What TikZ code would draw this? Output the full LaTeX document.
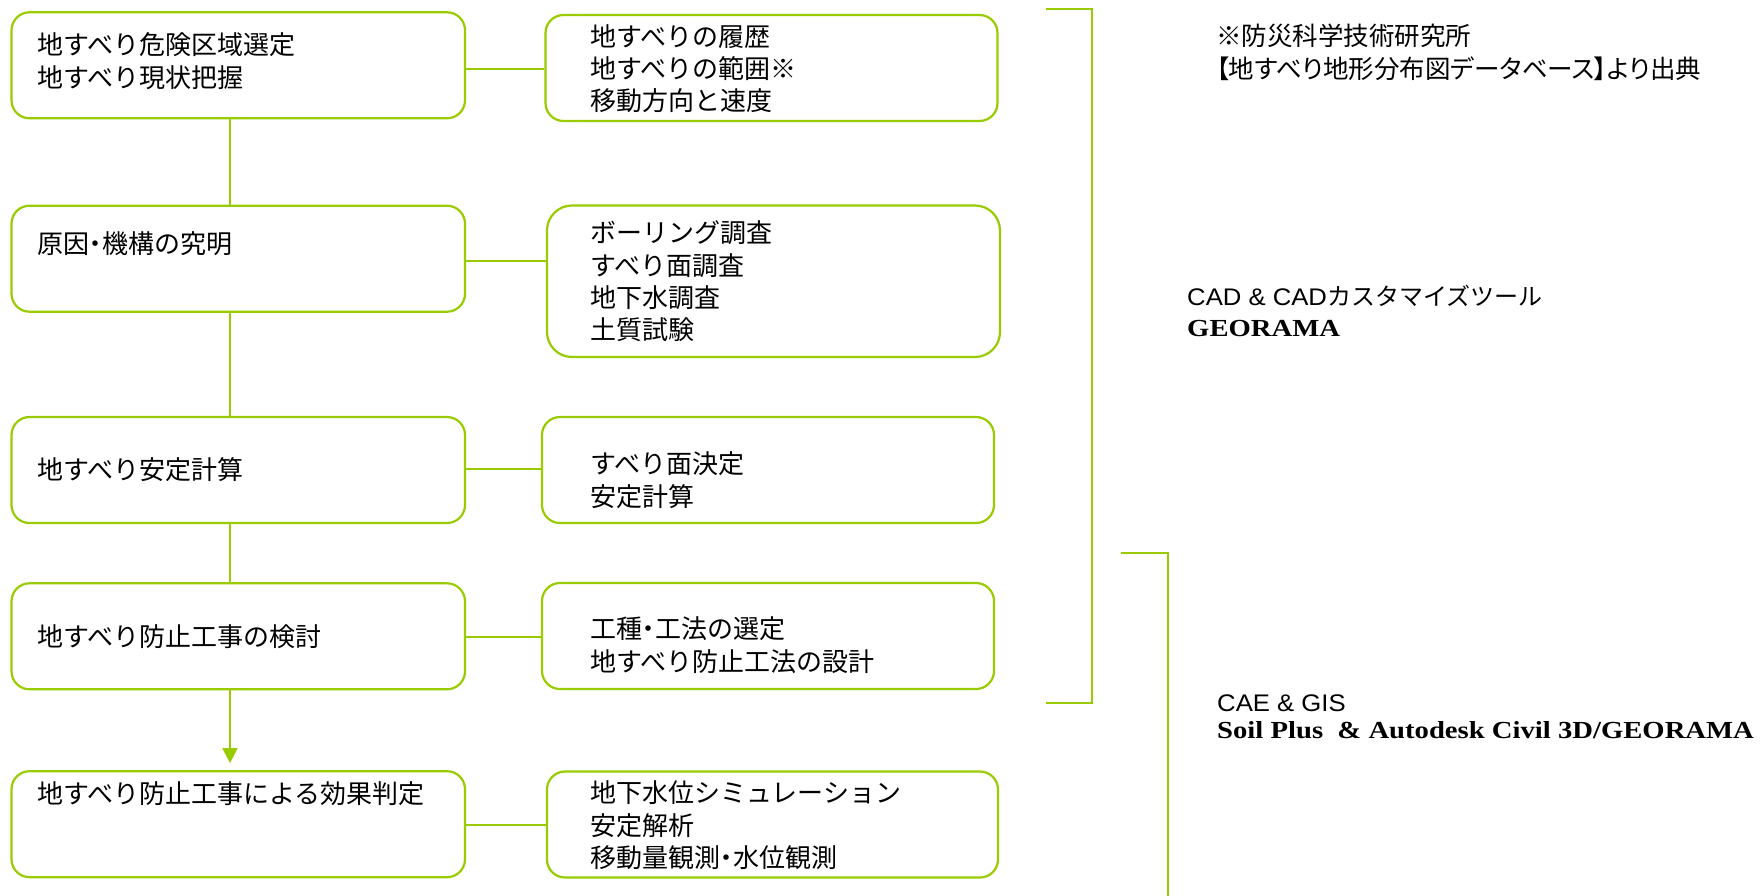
\documentclass[tikz,border=0pt]{standalone}
\usepackage{fontspec}
\newfontfamily\jp{Noto Sans CJK JP}
\newfontfamily\jpp{Noto Sans CJK JP}[RawFeature=+palt]
\newfontfamily\lsans{Liberation Sans}[FakeStretch=1.07]
\newfontfamily\bserif{Liberation Serif}[FakeStretch=1.17]
\newcommand{\nd}{{\jpp ・}}
\usetikzlibrary{arrows.meta}
\definecolor{lg}{RGB}{153,204,0}
\begin{document}
\begin{tikzpicture}[x=1pt,y=-1pt,
  box/.style={draw=lg, line width=2.2pt, rounded corners=18pt, inner sep=0pt, fill=white},
  conn/.style={draw=lg, line width=2.2pt},
  brk/.style={draw=lg, line width=2pt},
  jtxt/.style={font=\jp\fontsize{26pt}{32.4pt}\selectfont, align=left, inner sep=0pt, anchor=west, text=black},
  note/.style={font=\jpp\fontsize{25.5pt}{33.5pt}\selectfont, align=left, inner sep=0pt, anchor=west, text=black},
  tool/.style={inner sep=0pt, anchor=base west, text=black},
]
\useasboundingbox (0,0) rectangle (1760,896);

% left column boxes
\node[box, minimum width=453.5pt, minimum height=106pt] (L1) at (238.25,65.3) {};
\node[box, minimum width=453.5pt, minimum height=106pt] (L2) at (238.25,258.7) {};
\node[box, minimum width=453.5pt, minimum height=106pt] (L3) at (238.25,470) {};
\node[box, minimum width=453.5pt, minimum height=106pt] (L4) at (238.25,636.3) {};
\node[box, minimum width=453.5pt, minimum height=106pt] (L5) at (238.25,824.2) {};

% right column boxes
\node[box, minimum width=452pt, minimum height=106pt] (R1) at (771.5,68) {};
\node[box, rounded corners=25pt, minimum width=453pt, minimum height=151.5pt] (R2) at (773.5,281.25) {};
\node[box, minimum width=452pt, minimum height=106pt] (R3) at (768,470) {};
\node[box, minimum width=452pt, minimum height=106pt] (R4) at (768,636) {};
\node[box, minimum width=451pt, minimum height=106pt] (R5) at (772.5,824.5) {};

% texts in boxes
\node[jtxt] (tL1) at (37,61) {地すべり危険区域選定\\地すべり現状把握};
\node[jtxt] (tL2) at (37,243.3) {原因\nd 機構の究明};
\node[jtxt] (tL3) at (37,470) {地すべり安定計算};
\node[jtxt] (tL4) at (37,636.7) {地すべり防止工事の検討};
\node[jtxt] (tL5) at (37,794) {地すべり防止工事による効果判定};

\node[jtxt] (tR1) at (590,68.75) {地すべりの履歴\\地すべりの範囲※\\移動方向と速度};
\node[jtxt] (tR2) at (590,281.5) {ボーリング調査\\すべり面調査\\地下水調査\\土質試験};
\node[jtxt] (tR3) at (590,480) {すべり面決定\\安定計算};
\node[jtxt] (tR4) at (590,645) {工種\nd 工法の選定\\地すべり防止工法の設計};
\node[jtxt] (tR5) at (590,825.4) {地下水位シミュレーション\\安定解析\\移動量観測\nd 水位観測};

% connectors
\coordinate (vx) at (230,0);
\draw[conn] (L1.south -| vx) -- (L2.north -| vx);
\draw[conn] (L2.south -| vx) -- (L3.north -| vx);
\draw[conn] (L3.south -| vx) -- (L4.north -| vx);
\draw[conn, -{Triangle[width=15pt,length=15pt]}, fill=lg, shorten >=7pt] (L4.south -| vx) -- (L5.north -| vx);

\coordinate (h1) at (0,69.3);
\coordinate (h2) at (0,261);
\coordinate (h3) at (0,469.3);
\coordinate (h4) at (0,637.3);
\coordinate (h5) at (0,825.3);
\draw[conn] (L1.east |- h1) -- (R1.west |- h1);
\draw[conn] (L2.east |- h2) -- (R2.west |- h2);
\draw[conn] (L3.east |- h3) -- (R3.west |- h3);
\draw[conn] (L4.east |- h4) -- (R4.west |- h4);
\draw[conn] (L5.east |- h5) -- (R5.west |- h5);

% brackets
\coordinate (b1s) at (1046,9.3);
\coordinate (b1t) at (1092,9.3);
\coordinate (b1u) at (1092,703.3);
\coordinate (b1e) at (1046,703.3);
\draw[brk] (b1s) -- (b1t) -- (b1u) -- (b1e);
\coordinate (b2s) at (1121,553.3);
\coordinate (b2t) at (1168,553.3);
\coordinate (b2e) at (1168,905);
\draw[brk] (b2s) -- (b2t) -- (b2e);

% annotations
\node[note] (nt) at (1216,52.5) {※防災科学技術研究所\\【地すべり地形分布図データベース】より出典};
\node[tool] (cad) at (1187,305) {{\lsans\fontsize{24pt}{28pt}\selectfont CAD \& CAD}{\jp\fontsize{24pt}{28pt}\selectfont カスタマイズツール}};
\node[tool] (geo) at (1187,336) {\bserif\fontsize{24.5pt}{28pt}\selectfont\bfseries GEORAMA};
\node[tool] (cae) at (1217,711) {\lsans\fontsize{24pt}{28pt}\selectfont CAE \& GIS};
\node[tool] (soil) at (1217,738) {\bserif\fontsize{24.5pt}{28pt}\selectfont\bfseries Soil Plus\ \ \& Autodesk Civil 3D/GEORAMA};
\end{tikzpicture}
\end{document}
